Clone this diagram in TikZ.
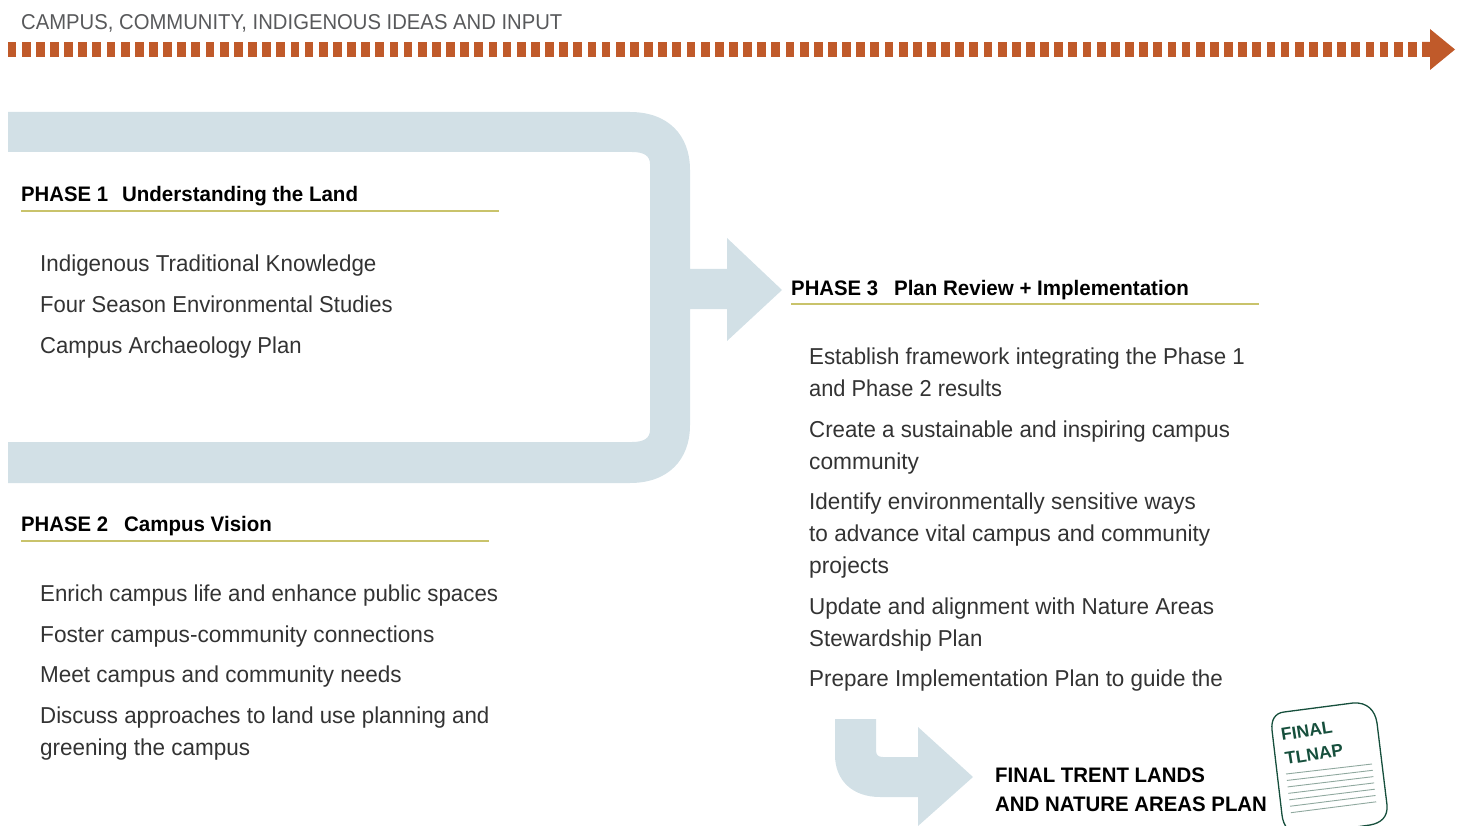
\documentclass[tikz,border=0pt]{standalone}
\usepackage{graphicx}
\usepackage{fontspec}
\setmainfont{Liberation Sans}
\newfontfamily\bodyf[FakeStretch=0.968]{Liberation Sans}
\newfontfamily\headf[FakeStretch=0.977]{Liberation Sans}
\newfontfamily\phasef[FakeStretch=0.967]{Liberation Sans}
\newfontfamily\finalf[FakeStretch=0.972]{Liberation Sans}
\newfontfamily\topf[FakeStretch=0.9425]{Liberation Sans}
\definecolor{bandblue}{HTML}{D2E0E6}
\definecolor{rust}{HTML}{C05A2A}
\definecolor{olive}{HTML}{C9C36B}
\definecolor{topgray}{HTML}{58595B}
\definecolor{bodyink}{HTML}{333333}
\definecolor{docgreen}{HTML}{164F3C}
\definecolor{docline}{HTML}{8FA89E}
\tikzset{
  bodytext/.style={anchor=base west,inner sep=0pt,text=bodyink,font=\bodyf\fontsize{23}{23}\selectfont},
  headtext/.style={anchor=base west,inner sep=0pt,text=black,font=\fontsize{21}{21}\selectfont},
  finaltext/.style={anchor=base west,inner sep=0pt,text=black,font=\finalf\bfseries\fontsize{21}{21}\selectfont},
  toptext/.style={anchor=base west,inner sep=0pt,text=topgray,font=\topf\fontsize{21.5}{21.5}\selectfont},
  rule/.style={draw=olive,line width=2pt},
  band/.style={fill=bandblue,draw=none},
  doctext/.style={anchor=base west,inner sep=0pt,text=docgreen,rotate=9,font=\bfseries\fontsize{17.5}{17.5}\selectfont},
  docrule/.style={draw=docline,line width=0.9pt}
}
\newcommand{\phasehead}[3]{{\phasef\bfseries PHASE #1}\hspace{#2}{\headf\bfseries #3}}
\newcommand{\sx}[2]{\scalebox{#1}[1]{#2}}
\begin{document}
\begin{tikzpicture}[x=1pt,y=-1pt]
\useasboundingbox (0,0) rectangle (1461,826);
\clip (0,0) rectangle (1461,826);
% dotted input line
\foreach \i in {0,...,99}{
  \fill[rust] ({7.6+14.145*\i},42) rectangle ++(8.8,15);
}
\fill[rust] (1422,42) -- (1430,42) -- (1430,29) -- (1455,49.5) -- (1430,70) -- (1430,57) -- (1422,57) -- cycle;
% large band arrow
\path[band] (8,112) -- (630,112) .. controls (668,112) and (690,135) .. (690,170)
  -- (690,269) -- (727,269) -- (727,238) -- (782,290) -- (727,341) -- (727,309) -- (690,309)
  -- (690,425) .. controls (690,460) and (668,483) .. (630,483) -- (8,483) -- (8,442)
  -- (632,442) .. controls (644,442) and (650,438) .. (650,430)
  -- (650,164) .. controls (650,156) and (644,152) .. (632,152) -- (8,152) -- cycle;
% small band arrow
\path[band] (835,719) -- (876,719) -- (876,750) .. controls (876,755) and (878,757) .. (883,757)
  -- (918,757) -- (918,727) -- (973,777) -- (918,826) -- (918,797) -- (880,797)
  .. controls (852,797) and (835,780) .. (835,755) -- cycle;
% labels
\node[toptext] (top) at (21,30) {CAMPUS, COMMUNITY, INDIGENOUS IDEAS AND INPUT};

\node[headtext] (p1) at (21,202) {\phasehead{1}{14pt}{Understanding the Land}};
\draw[rule] (21,211) -- (499,211);
\node[bodytext] (p1a) at (40,272) {\sx{1.005}{Indigenous Traditional Knowledge}};
\node[bodytext] (p1b) at (40,312.5) {\sx{0.989}{Four Season Environmental Studies}};
\node[bodytext] (p1c) at (40,353) {\sx{0.992}{Campus Archaeology Plan}};

\node[headtext] (p2) at (21,531.5) {\phasehead{2}{16pt}{Campus Vision}};
\draw[rule] (21,540.5) -- (489,540.5);
\node[bodytext] (p2a) at (40,601) {Enrich campus life and enhance public spaces};
\node[bodytext] (p2b) at (40,642) {\sx{1.018}{Foster campus-community connections}};
\node[bodytext] (p2c) at (40,682.5) {\sx{1.011}{Meet campus and community needs}};
\node[bodytext] (p2d) at (40,723.5) {Discuss approaches to land use planning and};
\node[bodytext] (p2e) at (40,755.5) {\sx{1.01}{greening the campus}};

\node[headtext] (p3) at (791,295) {\phasehead{3}{16pt}{Plan Review + Implementation}};
\draw[rule] (791,304) -- (1259,304);
\node[bodytext] (p3a) at (809,364.5) {Establish framework integrating the Phase 1};
\node[bodytext] (p3b) at (809,396.5) {\sx{0.98}{and Phase 2 results}};
\node[bodytext] (p3c) at (809,437) {Create a sustainable and inspiring campus};
\node[bodytext] (p3d) at (809,469) {\sx{1.02}{community}};
\node[bodytext] (p3e) at (809,509.5) {\sx{1.008}{Identify environmentally sensitive ways}};
\node[bodytext] (p3f) at (809,541.5) {\sx{1.0125}{to advance vital campus and community}};
\node[bodytext] (p3g) at (809,573.5) {\sx{1.025}{projects}};
\node[bodytext] (p3h) at (809,614) {\sx{1.01}{Update and alignment with Nature Areas}};
\node[bodytext] (p3i) at (809,646) {Stewardship Plan};
\node[bodytext] (p3j) at (809,686.5) {\sx{1.007}{Prepare Implementation Plan to guide the}};

\node[finaltext] (f1) at (995,782) {FINAL TRENT LANDS};
\node[finaltext] (f2) at (995,811) {AND NATURE AREAS PLAN};
% document icon
\draw[docgreen,line width=1.3pt] (1284,712) -- (1353,703) .. controls (1367,702) and (1375,710) .. (1377,723)
  -- (1387,805) .. controls (1388,817) and (1381,823) .. (1370,825) -- (1300,835)
  .. controls (1290,836) and (1283,825) .. (1282,815)
  -- (1272,730) .. controls (1271,720) and (1275,713) .. (1284,712) -- cycle;
\node[doctext] (d1) at (1282,741) {FINAL};
\node[doctext] (d2) at (1286,765) {TLNAP};
\foreach \k in {0,...,6}{
  \draw[docrule] ({1286+0.8*\k},{774+6.45*\k}) -- ({1372+0.7*\k},{764+6.3*\k});
}
\end{tikzpicture}
\end{document}
